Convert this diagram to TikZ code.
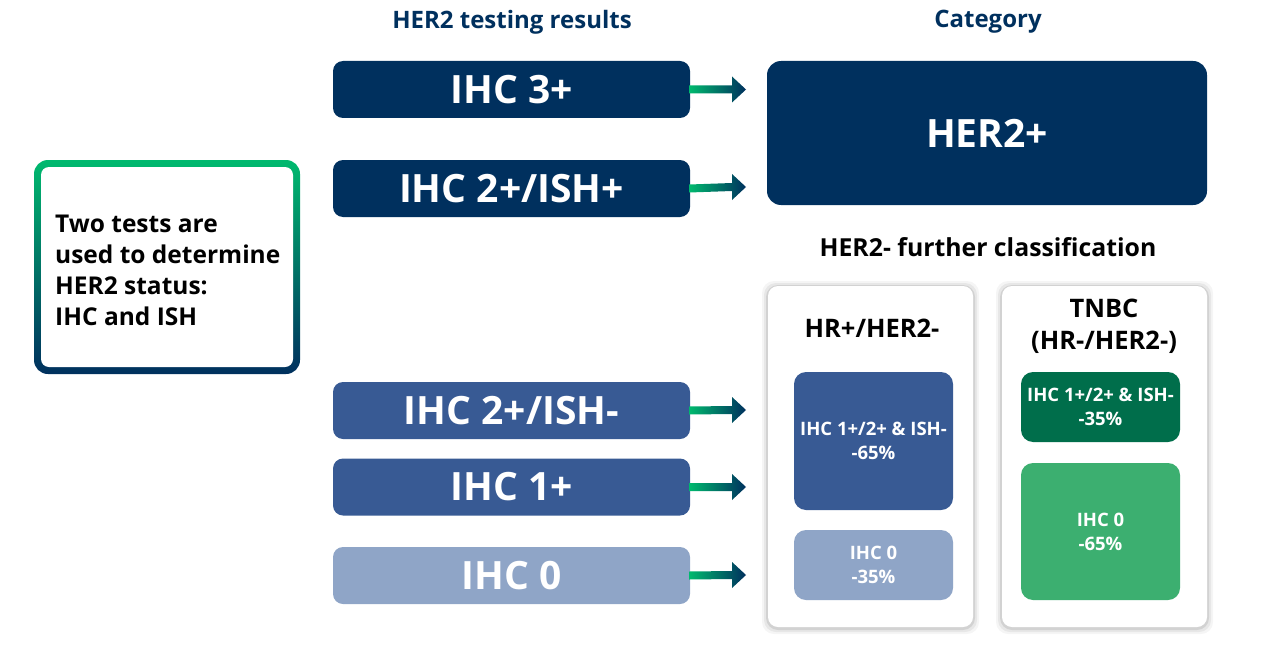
\documentclass[tikz,border=0pt]{standalone}
\usepackage{fontspec}
\setmainfont{Open Sans}
\usetikzlibrary{calc}
\definecolor{navy}{RGB}{0,48,94}
\definecolor{midblue}{RGB}{56,90,148}
\definecolor{lightblue}{RGB}{143,165,199}
\definecolor{dkgreen}{RGB}{0,110,75}
\definecolor{ltgreen}{RGB}{60,175,112}
\definecolor{ggreen}{RGB}{0,185,110}
\newcommand\gradarrow[2]{%
  \shade[left color=ggreen, right color=navy]
    ($(#1.east)+(-1,-4)$) -- ($(#2)+(-14,-4)$) -- ($(#2)+(-14,-13)$) -- (#2)
    -- ($(#2)+(-14,13)$) -- ($(#2)+(-14,4)$) -- ($(#1.east)+(-1,4)$) -- cycle;}
\begin{document}
\begin{tikzpicture}[x=1pt,y=-1pt,
  bar/.style={rounded corners=10pt, minimum width=357pt, minimum height=57pt,
    inner sep=0pt, text=white, font=\bfseries\fontsize{39}{42}\selectfont},
  head/.style={text=navy, font=\bfseries\fontsize{24}{27}\selectfont},
  panel/.style={fill=white, rounded corners=10pt, minimum width=205pt, minimum height=341pt},
  inbox/.style={rounded corners=12pt, minimum width=159pt, inner sep=0pt, text=white,
    align=center, font=\bfseries\fontsize{18.5}{24}\selectfont},
  ptitle/.style={align=center, font=\bfseries\fontsize{25.5}{32}\selectfont}]
\useasboundingbox (0,0) rectangle (1265,650);

% headers
\node[head] (h1) at (512,22) {HER2 testing results};
\node[head] (h2) at (988,22) {Category};

% intro box
\shade[top color=ggreen, bottom color=navy, rounded corners=14pt] (34,160) rectangle (300,374);
\fill[white, rounded corners=8pt] (41,167) rectangle (293,367);
\node[anchor=west, align=left, font=\bfseries\fontsize{24.5}{31}\selectfont, inner sep=0pt] (intro)
  at (55,270) {Two tests are\\used to determine\\HER2 status:\\IHC and ISH};

% test result bars
\node[bar, fill=navy] (b1) at (511.5,89.5) {IHC 3+};
\node[bar, fill=navy] (b2) at (511.5,188.5) {IHC 2+/ISH+};
\node[bar, fill=midblue] (b3) at (511.5,410.5) {IHC 2+/ISH-};
\node[bar, fill=midblue] (b4) at (511.5,487) {IHC 1+};
\node[bar, fill=lightblue] (b5) at (511.5,575.5) {IHC 0};

% arrow tips
\coordinate (t1) at (746,89.5);
\coordinate (t2) at (746,187);
\coordinate (t3) at (746,410);
\coordinate (t4) at (746,487);
\coordinate (t5) at (746,575);
\gradarrow{b1}{t1}
\gradarrow{b2}{t2}
\gradarrow{b3}{t3}
\gradarrow{b4}{t4}
\gradarrow{b5}{t5}

% HER2+ category
\node[fill=navy, rounded corners=14pt, minimum width=440pt, minimum height=144pt,
  text=white, font=\bfseries\fontsize{39}{42}\selectfont] (her2pos) at (987,133) {HER2+};

\node[font=\bfseries\fontsize{24.8}{28}\selectfont] (further) at (988,247) {HER2- further classification};

% panels with soft shadow
\foreach \cx in {870.5,1104.5}{
  \foreach \d/\o in {6/0.04,4/0.06,2/0.09}{
    \fill[black, opacity=\o, rounded corners=12pt]
      (\cx-102.5-\d,286-\d+1) rectangle (\cx+102.5+\d,627+\d+1);
  }
}
\node[panel] (p1) at (870.5,456.5) {};
\node[panel] (p2) at (1104.5,456.5) {};

\node[ptitle] (p1t) at (872,328) {HR+/HER2-};
\node[ptitle] (p2t) at (1104,326) {TNBC\\(HR-/HER2-)};

\node[inbox, fill=midblue, minimum height=138pt] (ia) at (873.5,441) {IHC 1+/2+ \& ISH-\\-65\%};
\node[inbox, fill=lightblue, minimum height=70pt] (ib) at (873.5,565) {IHC 0\\-35\%};
\node[inbox, fill=dkgreen, minimum height=70pt] (ic) at (1100.5,407) {IHC 1+/2+ \& ISH-\\-35\%};
\node[inbox, fill=ltgreen, minimum height=137pt] (id) at (1100.5,531.5) {IHC 0\\-65\%};
\end{tikzpicture}
\end{document}
